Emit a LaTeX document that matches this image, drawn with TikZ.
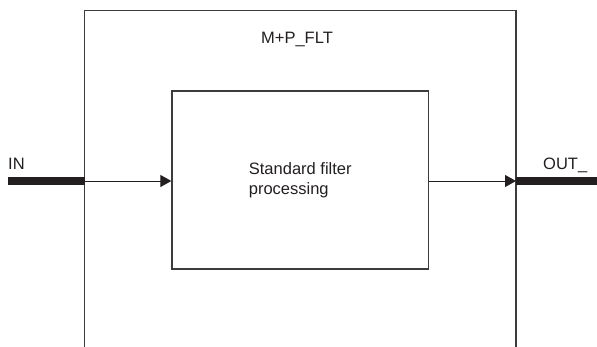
\documentclass[tikz,border=0pt]{standalone}
\usepackage{fontspec}
\setmainfont{Liberation Sans}
\usetikzlibrary{arrows.meta,positioning}
\definecolor{ink}{HTML}{231F20}
\definecolor{frame}{HTML}{3C3C3C}
\tikzset{
  blockbox/.style={draw=frame,line width=1.3pt,minimum width=256.5pt,
    minimum height=178pt,inner sep=0pt,align=left,text=ink},
  busline/.style={line width=8pt,ink},
  sigarrow/.style={-{Triangle[length=11pt,width=12pt]},line width=0.9pt,ink},
  lbl/.style={text=ink,inner sep=0pt}
}
\begin{document}
\begin{tikzpicture}[x=1pt,y=-1pt,font=\fontsize{16.5}{19.5}\selectfont]
  \useasboundingbox (0,0) rectangle (597,347);
  % outer function block, open at the bottom
  \draw[frame,line width=1.3pt] (84.5,347) -- (84.5,10.7) -- (516,10.7) -- (516,347);
  \node[lbl] (title) at (297,39.5) {M+P\_FLT};
  % inner processing block
  \node[blockbox] (proc) at (300.25,180) {Standard filter\\processing};
  % ports
  \coordinate (inport) at (84.5,181);
  \coordinate (outport) at (516,181);
  \coordinate (inend) at (8,181);
  \coordinate (outend) at (597,181);
  \draw[busline] (inend) -- (inport);
  \draw[busline] (outport) -- (outend);
  \draw[sigarrow] (inport) -- (proc.west |- inport);
  \draw[sigarrow] (proc.east |- outport) -- (outport);
  \node[lbl,anchor=base west] (inlbl) at (8,169.3) {IN};
  \node[lbl,anchor=base west] (outlbl) at (543,169.3) {OUT\_};
\end{tikzpicture}
\end{document}
